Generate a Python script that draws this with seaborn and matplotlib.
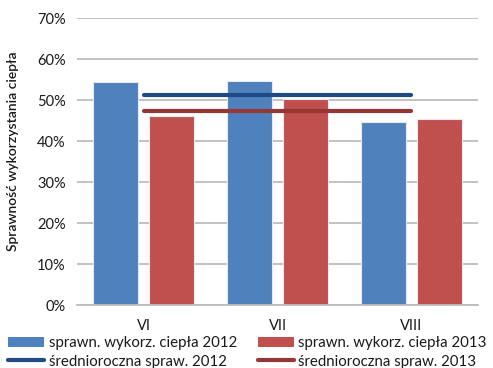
import numpy as np
import pandas as pd
import matplotlib
matplotlib.use("Agg")
import matplotlib.pyplot as plt
from matplotlib.patches import Patch
from matplotlib.lines import Line2D
import seaborn as sns

# Monthly heat-utilisation efficiency, %
months = ["VI", "VII", "VIII"]
eff_2012 = [54.4, 54.8, 44.8]
eff_2013 = [46.2, 50.4, 45.5]
# Annual averages
avg_2012 = 51.3
avg_2013 = 47.5

series_bar = ["sprawn. wykorz. ciepła 2012", "sprawn. wykorz. ciepła 2013"]
series_line = ["średnioroczna spraw. 2012", "średnioroczna spraw. 2013"]
y_ticks = [0, 10, 20, 30, 40, 50, 60, 70]

bar_colors = ["#4F81BD", "#C0504D"]
line_colors = ["#1F4A86", "#953735"]
text_color = "#1A1A1A"

sns.set_theme(style="white")
plt.rcParams["font.family"] = ["Lato", "DejaVu Sans"]

df = pd.DataFrame({
    "month": months * 2,
    "value": eff_2012 + eff_2013,
    "series": [series_bar[0]] * 3 + [series_bar[1]] * 3,
})

fig = plt.figure(figsize=(4.93, 3.68), dpi=100)
ax = fig.add_axes([0.156, 0.171, 0.814, 0.779])

sns.barplot(data=df, x="month", y="value", hue="series", order=months,
            hue_order=series_bar, palette=bar_colors, width=0.836, gap=0.194,
            saturation=1, ax=ax, legend=False, linewidth=0.8,
            edgecolor="#E4E9F2")

pos = np.arange(len(months))
sns.lineplot(x=pos, y=[avg_2012] * len(months), color=line_colors[0],
             linewidth=3.0, ax=ax, zorder=4)
sns.lineplot(x=pos, y=[avg_2013] * len(months), color=line_colors[1],
             linewidth=3.0, ax=ax, zorder=4)

ax.set_xlim(-0.5, len(months) - 0.5)
ax.set_ylim(0, 70)
ax.set_yticks(y_ticks)
ax.set_yticklabels([f"{t}%" for t in y_ticks], fontsize=10.5, color=text_color)
ax.set_xticks(pos)
ax.set_xticklabels(months, fontsize=10.5, color=text_color)
ax.tick_params(axis="both", length=0, pad=8)
ax.tick_params(axis="x", pad=10)
ax.yaxis.grid(True, color="#BDBDBD", linewidth=1.3)
ax.set_axisbelow(True)
for s in ["top", "right", "left"]:
    ax.spines[s].set_visible(False)
ax.spines["bottom"].set_color("#BDBDBD")
ax.spines["bottom"].set_linewidth(1.3)
ax.set_xlabel("")
ax.set_ylabel("Sprawność wykorzystania ciepła", fontsize=10,
              fontweight="semibold", color=text_color)
ax.yaxis.set_label_coords(-0.145, 0.537)

handles = [
    Patch(facecolor=bar_colors[0], edgecolor="none"),
    Line2D([0], [0], color=line_colors[0], linewidth=3.0),
    Patch(facecolor=bar_colors[1], edgecolor="none"),
    Line2D([0], [0], color=line_colors[1], linewidth=3.0),
]
labels = [series_bar[0], series_line[0], series_bar[1], series_line[1]]
fig.legend(handles, labels, ncol=2, loc="lower left",
           bbox_to_anchor=(-0.005, -0.03), frameon=False, fontsize=10.8,
           handlelength=2.4, handleheight=0.7, handletextpad=0.3,
           columnspacing=1.4, labelspacing=0.3, borderpad=0.2,
           labelcolor=text_color)

fig.savefig("out.png", dpi=100)
